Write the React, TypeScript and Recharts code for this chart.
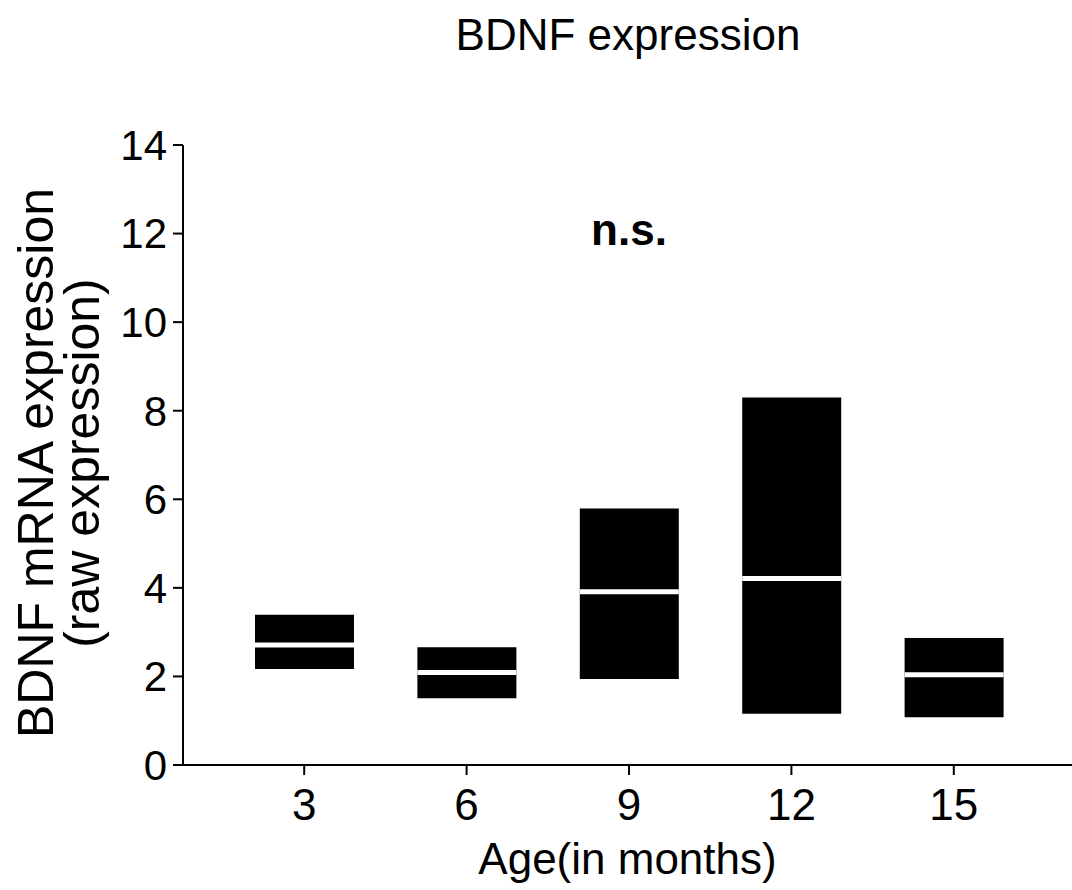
import { BarChart, Bar, XAxis, YAxis, Label, ReferenceDot } from 'recharts'

const ages = ['3', '6', '9', '12', '15']
const lows = [2.17, 1.51, 1.94, 1.16, 1.08]
const medians = [2.71, 2.09, 3.91, 4.21, 2.04]
const highs = [3.39, 2.66, 5.79, 8.3, 2.87]
const yTicks = [0, 2, 4, 6, 8, 10, 12, 14]
const nsAge = '9'
const nsLevel = 12.1

const data = ages.map((age, i) => ({
  age,
  range: [lows[i], highs[i]],
  median: medians[i],
}))

const font = '"Liberation Sans", Arial, sans-serif'
const axisPadding = { left: 40, right: 37 }

function MedianLine(props: any) {
  const { x, y, width } = props
  return <line x1={x} x2={x + width} y1={y} y2={y} stroke="#fff" strokeWidth={5} />
}

function YTitle(props: any) {
  const vb = props.viewBox || { y: 145, height: 620 }
  const cy = vb.y + vb.height / 2 + 8
  const style = { fontFamily: font, fontSize: 50, fill: '#000' }
  return (
    <g>
      <text transform={`translate(36, ${cy}) rotate(-90)`} textAnchor="middle" dominantBaseline="central" style={style}>
        BDNF mRNA expression
      </text>
      <text transform={`translate(82, ${cy}) rotate(-90)`} textAnchor="middle" dominantBaseline="central" style={style}>
        (raw expression)
      </text>
    </g>
  )
}

export default function App() {
  return (
    <div style={{ position: 'absolute', left: 0, top: 0, width: 1072, height: 890, background: '#fff' }}>
      <div
        style={{
          position: 'absolute',
          left: 428,
          top: 8,
          width: 400,
          textAlign: 'center',
          fontFamily: font,
          fontSize: 44,
          lineHeight: '54px',
          color: '#000',
        }}
      >
        BDNF expression
      </div>
      <BarChart width={1072} height={890} data={data} margin={{ top: 145, right: 0, bottom: 0, left: 0 }} barSize={99}>
        <XAxis
          dataKey="age"
          padding={axisPadding}
          height={125}
          axisLine={{ stroke: '#000', strokeWidth: 2 }}
          tickLine={{ stroke: '#000', strokeWidth: 2 }}
          tickSize={10}
          tickMargin={14}
          tick={{ fill: '#000', fontSize: 44, fontFamily: font }}
        >
          <Label
            value="Age(in months)"
            position="insideBottom"
            offset={16}
            style={{ fill: '#000', fontSize: 44, fontFamily: font }}
          />
        </XAxis>
        <XAxis xAxisId="median" dataKey="age" padding={axisPadding} hide />
        <YAxis
          width={183}
          domain={[0, 14]}
          ticks={yTicks}
          interval={0}
          axisLine={{ stroke: '#000', strokeWidth: 2 }}
          tickLine={{ stroke: '#000', strokeWidth: 2 }}
          tickSize={10}
          tickMargin={6}
          tick={{ fill: '#000', fontSize: 42, fontFamily: font }}
        >
          <Label content={<YTitle />} />
        </YAxis>
        <Bar dataKey="range" fill="#000" isAnimationActive={false} />
        <Bar dataKey="median" xAxisId="median" fill="none" shape={<MedianLine />} isAnimationActive={false} />
        <ReferenceDot x={nsAge} y={nsLevel} r={1} fill="none" stroke="none">
          <Label
            value="n.s."
            position="center"
            style={{ fill: '#000', fontSize: 44, fontWeight: 'bold', fontFamily: font }}
          />
        </ReferenceDot>
      </BarChart>
    </div>
  )
}
